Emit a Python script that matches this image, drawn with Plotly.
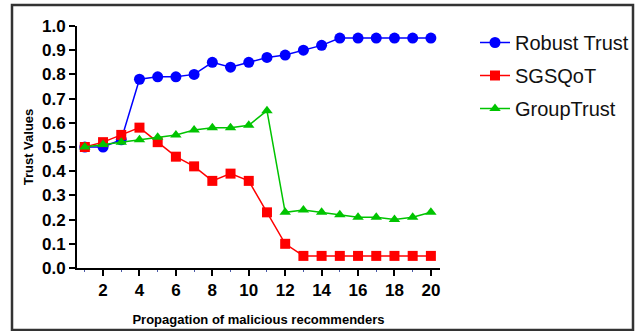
import plotly.graph_objects as go

x_vals = list(range(1, 21))
robust_trust = [0.50, 0.50, 0.53, 0.78, 0.79, 0.79, 0.80, 0.85, 0.83, 0.85,
                0.87, 0.88, 0.90, 0.92, 0.95, 0.95, 0.95, 0.95, 0.95, 0.95]
sgsqot = [0.50, 0.52, 0.55, 0.58, 0.52, 0.46, 0.42, 0.36, 0.39, 0.36,
          0.23, 0.10, 0.05, 0.05, 0.05, 0.05, 0.05, 0.05, 0.05, 0.05]
group_trust = [0.50, 0.51, 0.52, 0.53, 0.54, 0.55, 0.57, 0.58, 0.58, 0.59,
               0.65, 0.23, 0.24, 0.23, 0.22, 0.21, 0.21, 0.20, 0.21, 0.23]
x_ticks = [2, 4, 6, 8, 10, 12, 14, 16, 18, 20]
y_ticks = [0.0, 0.1, 0.2, 0.3, 0.4, 0.5, 0.6, 0.7, 0.8, 0.9, 1.0]

fig = go.Figure()
fig.add_trace(go.Scatter(x=x_vals, y=robust_trust, name="Robust Trust", mode="lines+markers",
                         legendgroup="a",
                         line=dict(color="#0000FF", width=1.5),
                         marker=dict(symbol="circle", size=11, color="#0000FF")))
fig.add_trace(go.Scatter(x=x_vals, y=sgsqot, name="SGSQoT", mode="lines+markers",
                         legendgroup="b",
                         line=dict(color="#FF0000", width=1.5),
                         marker=dict(symbol="square", size=10, color="#FF0000")))
fig.add_trace(go.Scatter(x=x_vals, y=group_trust, name="GroupTrust", mode="lines+markers",
                         legendgroup="c",
                         line=dict(color="#00C400", width=1.5),
                         marker=dict(symbol="triangle-up", size=10, color="#00C400")))

L, R, T, B = 77, 202, 26, 63
W, H = 642, 331
pw, ph = W - L - R, H - T - B

def px(xp):
    return (xp - L) / pw

def py(yp):
    return (H - B - yp) / ph

fig.update_layout(
    width=W, height=H,
    margin=dict(l=L, r=R, t=T, b=B, pad=0, autoexpand=False),
    paper_bgcolor="white", plot_bgcolor="white",
    font=dict(family="Liberation Sans, Arial, sans-serif", color="black"),
    showlegend=True,
    legend=dict(x=px(475), y=py(23), xanchor="left", yanchor="top",
                font=dict(size=20, color="#111"), bgcolor="rgba(0,0,0,0)",
                itemwidth=30, tracegroupgap=4),
    xaxis=dict(range=[0.57, 20.5], tickvals=x_ticks, ticktext=[str(v) for v in x_ticks],
               automargin=False,
               showgrid=False, zeroline=False, showline=True, linecolor="black", linewidth=2,
               ticks="outside", ticklen=6, tickwidth=2, tickcolor="black",
               tickfont=dict(size=17, family="Liberation Sans, Arial, sans-serif", weight="bold"),
               minor=dict(tickvals=x_vals, ticks="outside", ticklen=2, tickwidth=1, tickcolor="#4a5aa8"),
               title=dict(text="<b>Propagation of malicious recommenders</b>", font=dict(size=13))),
    yaxis=dict(range=[0, 1.0], tickvals=y_ticks, ticktext=[f"{v:.1f}" for v in y_ticks],
               automargin=True,
               showgrid=False, zeroline=False, showline=True, linecolor="black", linewidth=2,
               ticks="outside", ticklen=6, tickwidth=2, tickcolor="black",
               tickfont=dict(size=17, family="Liberation Sans, Arial, sans-serif", weight="bold"),
               title=dict(text="<b>Trust Values</b>", font=dict(size=13), standoff=5)),
    shapes=[dict(type="rect", xref="paper", yref="paper",
                 x0=px(12), x1=px(633), y0=py(330), y1=py(5),
                 line=dict(color="#333333", width=2.5), layer="below")],
)

fig.write_html("out.html", config={"displayModeBar": False},
               post_script="document.body.style.margin='0';document.body.style.overflow='hidden';")
